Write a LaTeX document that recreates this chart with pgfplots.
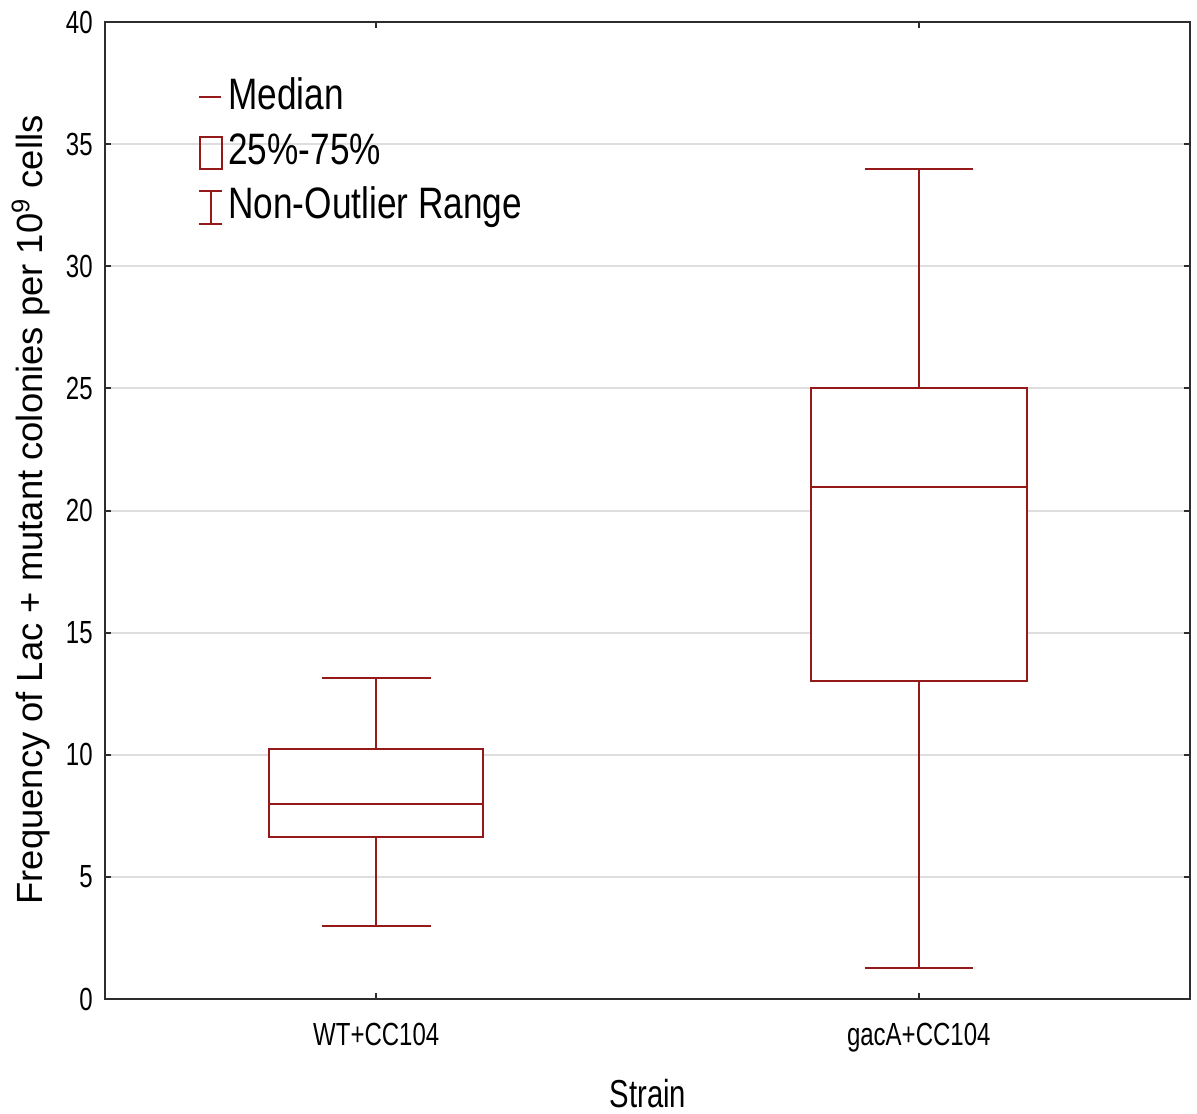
\documentclass[border=0pt]{standalone}
\usepackage{pgfplots}
\pgfplotsset{compat=1.18}
\usepgfplotslibrary{statistics}
\usepackage{fontspec}
\setmainfont{Liberation Sans}
\newfontfamily\narrowfont{Liberation Sans}[FakeStretch=0.75]
\newfontfamily\legfont{Liberation Sans}[FakeStretch=0.8]
\definecolor{boxred}{RGB}{150,25,25}
\definecolor{gridgray}{RGB}{222,222,222}
\definecolor{axisgray}{RGB}{45,45,45}
\begin{document}
\begin{tikzpicture}
\useasboundingbox (0,0) rectangle (598.5pt,556.5pt);
\begin{axis}[
  at={(52.5pt,57pt)}, anchor=south west,
  width=542.5pt, height=488.5pt, scale only axis,
  xmin=-0.5, xmax=1.5, ymin=0, ymax=40,
  xtick={0,1}, xticklabels={WT+CC104, gacA+CC104},
  ytick={0,5,...,40},
  tick align=inside, major tick length=3pt,
  tick style={line width=1pt, color=axisgray},
  axis line style={line width=1.2pt, color=axisgray},
  ymajorgrids, grid style={line width=1pt, color=gridgray},
  boxplot/draw direction=y,
  /pgf/number format/assume math mode=true,
  yticklabel style={font=\narrowfont\fontsize{16}{16}\selectfont, anchor=east, inner sep=0pt, xshift=-6pt},
  xticklabel style={font=\narrowfont\fontsize{16}{16}\selectfont, anchor=base, inner sep=0pt, yshift=-23pt},
]
\addplot[draw=boxred, fill=white, line width=1pt,
  boxplot prepared={lower whisker=3.0, lower quartile=6.65, median=8.0,
    upper quartile=10.23, upper whisker=13.13,
    draw position=0, box extend=0.395, whisker extend=0.2}]
  coordinates {};
\addplot[draw=boxred, fill=white, line width=1pt,
  boxplot prepared={lower whisker=1.26, lower quartile=13.03, median=20.95,
    upper quartile=25.02, upper whisker=34.0,
    draw position=1, box extend=0.398, whisker extend=0.2}]
  coordinates {};
\end{axis}
% axis titles
\node[rotate=90, anchor=base, inner sep=0pt, font=\fontsize{18.2}{18.2}\selectfont]
  at (21pt,301.5pt) {Frequency of Lac + mutant colonies per 10$^{\mathrm{9}}$ cells};
\node[anchor=base, inner sep=0pt, font=\narrowfont\fontsize{19.5}{19.5}\selectfont]
  at (324pt,3pt) {Strain};
% legend keys
\draw[boxred, line width=1pt] (99.5pt,508pt) -- (110.5pt,508pt);
\draw[boxred, line width=1pt] (100pt,472pt) rectangle (111pt,488pt);
\draw[boxred, line width=1pt] (99.5pt,444.5pt) -- (111pt,444.5pt)
  (105.25pt,444.5pt) -- (105.25pt,461pt) (99.5pt,461pt) -- (111pt,461pt);
\node[anchor=base west, inner sep=0pt, font=\legfont\fontsize{22}{22}\selectfont] at (114pt,501.5pt) {Median};
\node[anchor=base west, inner sep=0pt, font=\legfont\fontsize{22}{22}\selectfont] at (114pt,474pt) {25\%-75\%};
\node[anchor=base west, inner sep=0pt, font=\legfont\fontsize{22}{22}\selectfont] at (114pt,447pt) {Non-Outlier Range};
\end{tikzpicture}
\end{document}
